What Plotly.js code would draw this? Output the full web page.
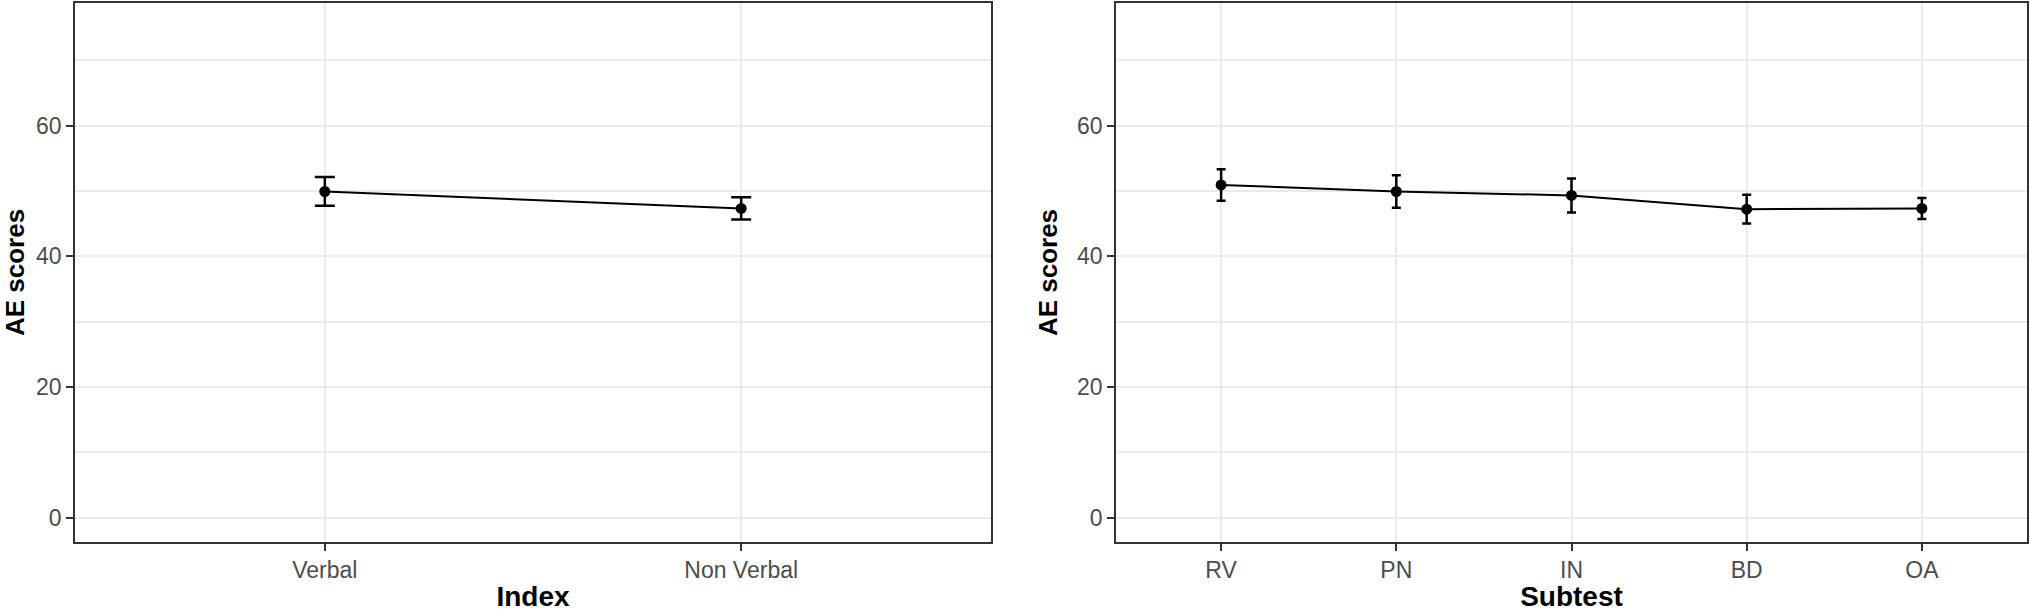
<!DOCTYPE html>
<html>
<head>
<meta charset="utf-8">
<script src="https://cdn.plot.ly/plotly-3.0.1.min.js"></script>
<style>
  html, body { margin: 0; padding: 0; background: #ffffff; }
  #chart { width: 2030px; height: 612px; }
</style>
</head>
<body>
<div id="chart"></div>
<script>
// ---- Data ----
const indexCategories = ["Verbal", "Non Verbal"];
const indexMeans = [49.9, 47.3];
const indexErrors = [2.2, 1.7];

const subtestCategories = ["RV", "PN", "IN", "BD", "OA"];
const subtestMeans = [50.9, 49.9, 49.3, 47.2, 47.3];
const subtestErrors = [2.4, 2.5, 2.6, 2.2, 1.6];

const yTickValues = [0, 20, 40, 60];
const yTickLabels = ["0", "20", "40", "60"];
const yLimits = [0, 75];

// ---- Styling ----
const FONT = "Liberation Sans, Arial, Helvetica, sans-serif";
const W = 2030, H = 612;
const yPad = (yLimits[1] - yLimits[0]) * 0.05;
const yRange = [yLimits[0] - yPad, yLimits[1] + yPad];

function seriesTrace(cats, means, errs, xa, ya, capHalf) {
  return {
    type: "scatter",
    mode: "lines+markers",
    x: cats,
    y: means,
    xaxis: xa,
    yaxis: ya,
    line: { color: "#000000", width: 2 },
    marker: { color: "#000000", size: 11 },
    error_y: {
      type: "data",
      array: errs,
      visible: true,
      color: "#000000",
      thickness: 2.5,
      width: capHalf
    },
    hoverinfo: "x+y",
    showlegend: false,
    cliponaxis: false
  };
}

function xAxis(domain, cats, title) {
  const n = cats.length;
  return {
    domain: domain,
    type: "category",
    categoryorder: "array",
    categoryarray: cats,
    range: [-0.6, n - 1 + 0.6],
    showgrid: true,
    gridcolor: "#EBEBEB",
    gridwidth: 2,
    zeroline: false,
    showline: true,
    mirror: true,
    linecolor: "#333333",
    linewidth: 1.5,
    ticks: "outside",
    ticklen: 7,
    tickwidth: 1.5,
    tickcolor: "#333333",
    tickfont: { family: FONT, size: 23, color: "#4D4D4D" },
    title: {
      text: title,
      font: { family: FONT, size: 28, color: "#000000", weight: 700 },
      standoff: 6
    },
    fixedrange: true
  };
}

function yAxis(domain, anchor) {
  return {
    domain: domain,
    anchor: anchor,
    range: yRange,
    tickmode: "array",
    tickvals: yTickValues,
    ticktext: yTickLabels,
    showgrid: true,
    gridcolor: "#EBEBEB",
    gridwidth: 2,
    minor: { dtick: 10, tick0: 0, showgrid: true, gridcolor: "#EBEBEB", gridwidth: 1.5, ticks: "" },
    zeroline: false,
    showline: true,
    mirror: true,
    linecolor: "#333333",
    linewidth: 1.5,
    ticks: "outside",
    ticklen: 7,
    tickwidth: 1.5,
    tickcolor: "#333333",
    tickfont: { family: FONT, size: 23, color: "#4D4D4D" },
    title: {
      text: "AE scores",
      font: { family: FONT, size: 26, color: "#000000", weight: 700 },
      standoff: 12
    },
    fixedrange: true
  };
}

const yDom = [(H - 542) / H, (H - 3) / H];

const data = [
  seriesTrace(indexCategories, indexMeans, indexErrors, "x", "y", 10),
  seriesTrace(subtestCategories, subtestMeans, subtestErrors, "x2", "y2", 4.5)
];

const layout = {
  width: W,
  height: H,
  margin: { l: 0, r: 0, t: 0, b: 0 },
  paper_bgcolor: "#ffffff",
  plot_bgcolor: "#ffffff",
  font: { family: FONT },
  xaxis: Object.assign(xAxis([75 / W, 991 / W], indexCategories, "Index"), { anchor: "y" }),
  yaxis: yAxis(yDom, "x"),
  xaxis2: Object.assign(xAxis([1116 / W, 2027 / W], subtestCategories, "Subtest"), { anchor: "y2" }),
  yaxis2: yAxis(yDom, "x2"),
  hovermode: "closest"
};

Plotly.newPlot("chart", data, layout, { displayModeBar: false, staticPlot: false });
</script>
</body>
</html>
